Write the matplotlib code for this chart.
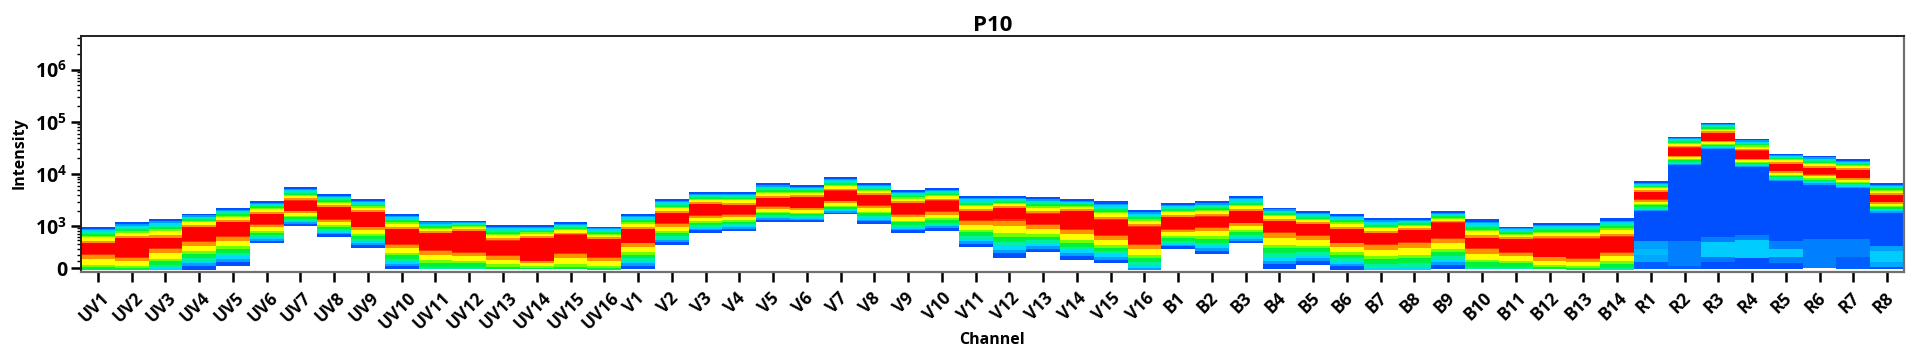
import matplotlib
matplotlib.use('Agg')
import matplotlib.pyplot as plt
from matplotlib.colors import ListedColormap, BoundaryNorm
from matplotlib.transforms import ScaledTranslation
import numpy as np

plt.rcParams['font.family'] = ['Open Sans', 'DejaVu Sans']
plt.rcParams['font.weight'] = 'bold'
plt.rcParams['mathtext.fontset'] = 'custom'
plt.rcParams['mathtext.bf'] = 'Open Sans:bold'
plt.rcParams['mathtext.rm'] = 'Open Sans:bold'

channels = ['UV%d' % i for i in range(1, 17)] + ['V%d' % i for i in range(1, 17)] \
    + ['B%d' % i for i in range(1, 15)] + ['R%d' % i for i in range(1, 9)]

# upper edge of the population on each channel
top = [970, 1183, 1393, 1742, 2280, 3060, 5740, 4110, 3340, 1742, 1270, 1270, 1045, 1045, 1183, 970,
       1742, 3340, 4520, 4520, 6660, 6190, 8690, 6660, 4965, 5350, 3813, 3813, 3660, 3340, 3060, 2057,
       2810, 3060, 3813, 2280, 1935, 1742, 1420, 1420, 1935, 1375, 970, 1165, 1165, 1420,
       7380, 52200, 96800, 47200, 24700, 22600, 19300, 6790]
# upper and lower edge of the red core
red_hi = [424, 553, 553, 940, 1183, 1720, 3100, 2320, 1855, 855, 705, 790, 490, 553, 653, 525,
          855, 1770, 2680, 2570, 3450, 3660, 4820, 3920, 2760, 3100, 1935, 2220, 1720, 1935, 1313, 970,
          1480, 1520, 1935, 1255, 1080, 855, 705, 828, 1165, 553, 525, 534, 534, 600,
          4520, 32200, 60600, 28200, 15700, 13000, 12000, 4000]
red_lo = [211, 157, 316, 490, 632, 1080, 1995, 1375, 970, 408, 283, 252, 195, 106, 223, 157,
          440, 1130, 1645, 1700, 2455, 2280, 3100, 2570, 1700, 1935, 1313, 1355, 1094, 855, 653, 408,
          870, 970, 1165, 765, 653, 440, 408, 463, 575, 316, 252, 167, 141, 252,
          3300, 22600, 43700, 19800, 11700, 9960, 8580, 2990]
# lower edge of the coloured band
bottom = [-28, -28, -28, -28, 33, 424, 1012, 600, 328, -18, -18, -18, -18, -18, -18, -28,
          -18, 378, 725, 800, 1215, 1215, 1700, 1110, 725, 800, 335, 141, 240, 116, 68, -28,
          302, 205, 424, -18, 42, -28, -28, -28, -18, -18, -18, -18, -28, -28,
          1820, 14360, 29000, 13300, 7000, 5950, 5130, 1700]
# density reached at that lower edge
bottom_level = [.42, .42, .22, 0, 0, 0, 0, 0, 0, 0, .3, .3, .42, .42, .42, .42,
                0, 0, 0, 0, 0, 0, 0, 0, 0, 0, 0, 0, 0, 0, 0, .14,
                0, 0, 0, 0, 0, 0, .22, .22, 0, .3, .3, .42, .42, .3,
                0, 0, 0, 0, 0, 0, 0, 0]

# low intensity tail of the red channels, edges from high to low and the shade between them
tail_edges = {
    'R1': [1820, 490, 295, 195, 91, -18],
    'R2': [14360, 490, 28, -18],
    'R3': [29000, 600, 448, 167, 91, -18],
    'R4': [13300, 645, 507, 141, -18],
    'R5': [7000, 490, 295, 167, 68, -18],
    'R6': [5950, 534, -4],
    'R7': [5130, 534, 167, -18],
    'R8': [1700, 363, 258, 82, 18, -18],
}
tail_shades = {
    'R1': ['#0050ff', '#00a0ff', '#00b8ff', '#00a8ff', '#0060ff'],
    'R2': ['#0050ff', '#0080ff', '#0060ff'],
    'R3': ['#0050ff', '#0080ff', '#00ccff', '#0078ff', '#0050ff'],
    'R4': ['#0050ff', '#0080ff', '#00ccff', '#0050ff'],
    'R5': ['#0050ff', '#0080ff', '#00ccff', '#0080ff', '#0050ff'],
    'R6': ['#0050ff', '#0080ff'],
    'R7': ['#0050ff', '#0080ff', '#0060ff'],
    'R8': ['#0050ff', '#00a0ff', '#00ccff', '#00a8ff', '#0050ff'],
}

band_colors = ['#0050ff', '#00a0ff', '#00d8ff', '#00f0a0', '#00f040',
               '#70ff00', '#ffff00', '#ff9000', '#ff3000', '#ff0000']
band_bounds = [0, .12, .2, .28, .38, .5, .58, .75, .87, .9, 1]
linear_width = 322

fig = plt.figure(figsize=(19.29, 3.61), dpi=100)
ax = fig.add_axes([81 / 1929, 1 - 272 / 361, (1904 - 81) / 1929, (272 - 36) / 361])
ax.set_yscale('asinh', linear_width=linear_width)

x_edges = np.arange(len(channels) + 1) - 0.5
y_pos = np.linspace(np.arcsinh(-60 / linear_width), np.arcsinh(200000 / linear_width), 1400)
y_edges = linear_width * np.sinh(y_pos)
y_mid = (y_pos[:-1] + y_pos[1:]) / 2

density = np.full((len(y_mid), len(channels)), np.nan)
for i in range(len(channels)):
    knots = np.arcsinh(np.array([bottom[i], red_lo[i], red_hi[i], top[i]]) / linear_width)
    col = np.interp(y_mid, knots, [bottom_level[i] + 0.001, 0.901, 0.901, 0.001])
    col[(y_mid < knots[0]) | (y_mid > knots[3])] = np.nan
    density[:, i] = col

cmap = ListedColormap(band_colors)
norm = BoundaryNorm(band_bounds, cmap.N)
ax.pcolormesh(x_edges, y_edges, np.ma.masked_invalid(density), cmap=cmap, norm=norm, antialiased=False)

for name in tail_edges:
    edges = tail_edges[name]
    for j in range(len(edges) - 1):
        ax.bar(channels.index(name), edges[j] - edges[j + 1], bottom=edges[j + 1], width=1,
               color=tail_shades[name][j], linewidth=0)

ax.set_xlim(-0.5, len(channels) - 0.5)
ax.set_ylim(-57, 4.4e6)

ax.set_xticks(range(len(channels)))
ax.set_xticklabels(channels, rotation=45, ha='center', va='top', fontsize=12.5)
ax.tick_params(axis='x', length=7, width=1.8, pad=5)
shift = ScaledTranslation(-4 / 100, 0, fig.dpi_scale_trans)
for lab in ax.get_xticklabels():
    lab.set_transform(lab.get_transform() + shift)

ax.set_yticks([0, 1e3, 1e4, 1e5, 1e6])
ax.set_yticklabels(['0', r'$\mathbf{10^{3}}$', r'$\mathbf{10^{4}}$', r'$\mathbf{10^{5}}$', r'$\mathbf{10^{6}}$'],
                   fontsize=14)
minor = [100 * k for k in range(1, 10)]
for p in [3, 4, 5, 6]:
    minor += [k * 10 ** p for k in range(2, 10)]
ax.set_yticks([m for m in minor if m < 4.4e6], minor=True)
ax.set_yticklabels([], minor=True)
ax.tick_params(axis='y', which='major', length=7, width=1.8, pad=3)
ax.tick_params(axis='y', which='minor', length=3, width=1)

for side in ['top', 'left']:
    ax.spines[side].set_color('#202020')
    ax.spines[side].set_linewidth(1.4)
for side in ['right', 'bottom']:
    ax.spines[side].set_color('#707070')
    ax.spines[side].set_linewidth(1.6)

ax.set_title('P10', fontsize=16, fontweight='bold', pad=3)
fig.text(992 / 1929, 1 - 340 / 361, 'Channel', fontsize=11.5, fontweight='bold', ha='center', va='center')
fig.text(20 / 1929, 1 - 153 / 361, 'Intensity', fontsize=11.5, fontweight='bold', rotation=90,
         ha='center', va='center')

fig.savefig('out.png', dpi=100)
plt.close()
